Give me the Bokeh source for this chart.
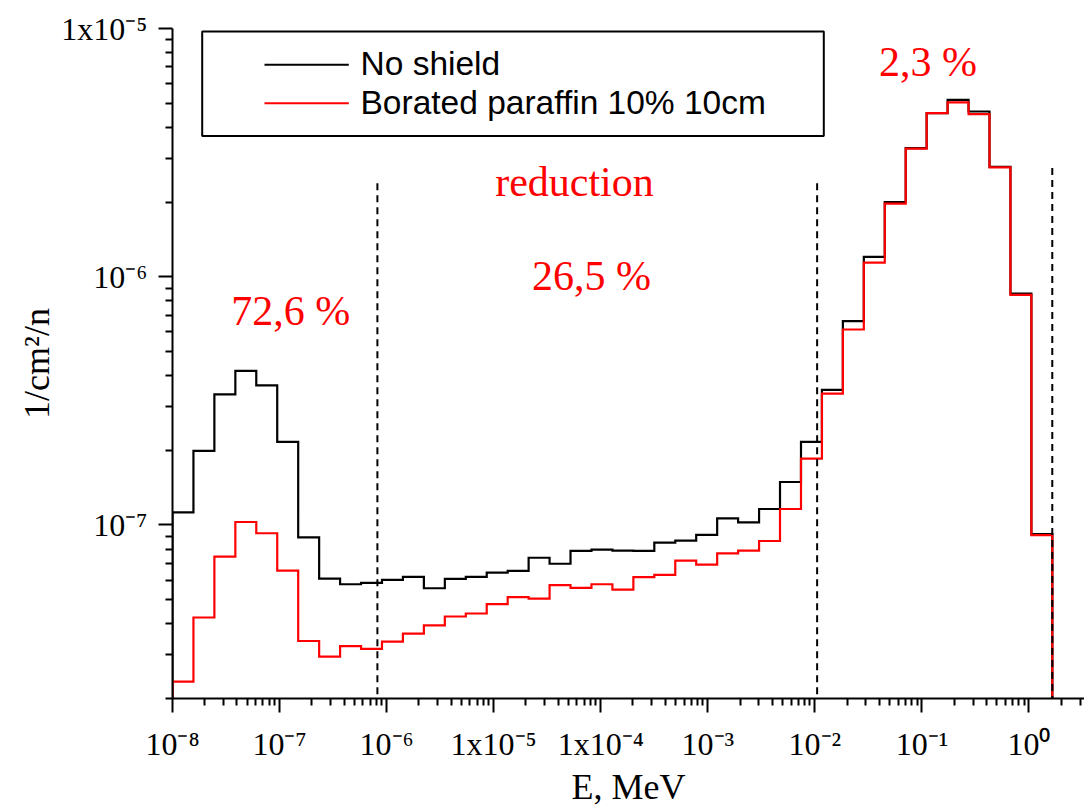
import math
from bokeh.plotting import figure
from bokeh.models import (Range1d, FixedTicker, Label, BoxAnnotation, CustomJSTickFormatter, Title)
from bokeh.embed import file_html
from bokeh.resources import INLINE

# ---------------- data ----------------
bin_edges_mev = [1.0e-8, 1.569e-8, 2.461e-8, 3.864e-8, 6.06e-8, 9.51e-8, 1.493e-7, 2.343e-7,
                 3.676e-7, 5.77e-7, 9.05e-7, 1.420e-6, 2.228e-6, 3.497e-6, 5.49e-6, 8.61e-6,
                 1.351e-5, 2.120e-5, 3.327e-5, 5.22e-5, 8.19e-5, 1.285e-4, 2.017e-4, 3.165e-4,
                 4.967e-4, 7.79e-4, 1.223e-3, 1.919e-3, 3.012e-3, 4.725e-3, 7.42e-3, 1.164e-2,
                 1.826e-2, 2.866e-2, 4.497e-2, 7.056e-2, 0.1107, 0.1737, 0.2726, 0.4278,
                 0.6712, 1.053, 1.652]

no_shield = [1.125e-7, 1.99e-7, 3.36e-7, 4.18e-7, 3.65e-7, 2.16e-7, 8.92e-8, 6.08e-8,
             5.77e-8, 5.84e-8, 6.01e-8, 6.18e-8, 5.56e-8, 6.07e-8, 6.18e-8, 6.43e-8,
             6.53e-8, 7.38e-8, 6.98e-8, 7.86e-8, 7.96e-8, 7.88e-8, 7.86e-8, 8.49e-8,
             8.65e-8, 9.12e-8, 1.064e-7, 1.025e-7, 1.16e-7, 1.49e-7, 2.16e-7, 3.50e-7,
             6.62e-7, 1.202e-6, 2.00e-6, 3.30e-6, 4.56e-6, 5.16e-6, 4.63e-6, 2.77e-6,
             8.55e-7, 9.18e-8]

borated = [2.34e-8, 4.24e-8, 7.46e-8, 1.028e-7, 9.26e-8, 6.55e-8, 3.41e-8, 2.95e-8,
           3.25e-8, 3.17e-8, 3.39e-8, 3.65e-8, 3.94e-8, 4.28e-8, 4.40e-8, 4.80e-8,
           5.12e-8, 5.05e-8, 5.72e-8, 5.58e-8, 5.77e-8, 5.49e-8, 6.16e-8, 6.29e-8,
           7.18e-8, 6.92e-8, 7.69e-8, 7.88e-8, 8.62e-8, 1.16e-7, 1.85e-7, 3.38e-7,
           6.13e-7, 1.14e-6, 1.97e-6, 3.28e-6, 4.56e-6, 5.04e-6, 4.52e-6, 2.76e-6,
           8.45e-7, 9.1e-8]

series_names = ["No shield", "Borated paraffin 10% 10cm"]

divider_energies = [8.2e-7, 1.05e-2, 1.65]
divider_tops = [2.38e-6, 2.38e-6, 2.74e-6]

annotation_texts = ["72,6 %", "reduction", "26,5 %", "2,3 %"]
annotation_x = [1.27e-7, 5.68e-5, 8.2e-5, 0.114]
annotation_y = [6.46e-7, 2.14e-6, 8.94e-7, 6.47e-6]

x_tick_values = [1e-8, 1e-7, 1e-6, 1e-5, 1e-4, 1e-3, 1e-2, 1e-1, 1e0]
x_tick_labels = ["10\u207b\u2078", "10\u207b\u2077", "10\u207b\u2076", "1x10\u207b\u2075",
                 "1x10\u207b\u2074", "10\u207b\u00b3", "10\u207b\u00b2", "10\u207b\u00b9",
                 "10\u2070"]

y_tick_values = [1e-7, 1e-6, 1e-5]
y_tick_labels = ["10\u207b\u2077", "10\u207b\u2076", "1x10\u207b\u2075"]

x_title = "E, MeV"
y_title = "1/cm\u00b2/n"

# ---------------- figure ----------------
X_MIN, X_MAX = 1e-8, 3.3
Y_MIN, Y_MAX = 2e-8, 1e-5
SERIF = "Liberation Serif"
SANS = "Liberation Sans"

p = figure(width=1084, height=807, x_axis_type="log", y_axis_type="log",
           x_range=Range1d(X_MIN, X_MAX), y_range=Range1d(Y_MIN, Y_MAX),
           output_backend="svg", toolbar_location=None,
           min_border_left=172, min_border_right=0, min_border_top=28, min_border_bottom=109)
p.outline_line_color = None
p.grid.visible = False
p.background_fill_color = "white"
p.border_fill_color = "white"

x_minor = [m * 10.0 ** k for k in range(-8, 1) for m in range(2, 10) if m * 10.0 ** k <= X_MAX]
y_minor = [m * 10.0 ** k for k in range(-8, -5) for m in range(2, 10) if m * 10.0 ** k >= Y_MIN]

LOOKUP = """
let best = -1, bd = 1e9;
for (let i = 0; i < vals.length; i++) {
  const d = Math.abs(Math.log10(tick) - Math.log10(vals[i]));
  if (d < bd) { bd = d; best = i; }
}
return bd < 1e-6 ? labs[best] : '';
"""

for ax, major, minor, labs in ((p.xaxis[0], x_tick_values, x_minor, x_tick_labels),
                               (p.yaxis[0], y_tick_values, y_minor, y_tick_labels)):
    ax.ticker = FixedTicker(ticks=major, minor_ticks=minor)
    ax.formatter = CustomJSTickFormatter(args=dict(vals=major, labs=labs), code=LOOKUP)
    ax.axis_line_width = 2
    ax.axis_line_color = "black"
    ax.major_tick_line_width = 2
    ax.minor_tick_line_width = 2
    ax.major_tick_out = 14
    ax.major_tick_in = 0
    ax.minor_tick_out = 7
    ax.minor_tick_in = 0
    ax.major_label_text_font = SERIF
    ax.major_label_text_font_size = "32px"
    ax.major_label_text_color = "black"

p.xaxis.major_label_standoff = 13
p.yaxis.major_label_standoff = 11

# axis titles as side titles (allow an offset along the axis)
p.add_layout(Title(text=x_title, align="center", offset=20, standoff=0,
                   text_font=SERIF, text_font_size="36px", text_font_style="normal",
                   text_color="black"), "below")
p.add_layout(Title(text=y_title, align="center", offset=43, standoff=3,
                   text_font=SERIF, text_font_size="36px", text_font_style="normal",
                   text_color="black"), "left")

# ---------------- histogram step outlines ----------------
def step_path(edges, vals, floor):
    xs, ys = [edges[0]], [floor]
    for i, v in enumerate(vals):
        xs += [edges[i], edges[i + 1]]
        ys += [v, v]
    xs.append(edges[-1])
    ys.append(floor)
    return xs, ys

bx, by = step_path(bin_edges_mev, no_shield, Y_MIN)
rx, ry = step_path(bin_edges_mev, borated, Y_MIN)
p.line(bx, by, line_color="black", line_width=2.2, line_join="miter")
p.line(rx, ry, line_color="#ff0000", line_width=2.2, line_join="miter")

# dashed region dividers (drawn from the top down so the pattern starts at the top)
p.segment(x0=divider_energies, y0=divider_tops,
          x1=divider_energies, y1=[Y_MIN] * len(divider_energies),
          line_color="black", line_width=2, line_dash="7 5")

# red annotations
for t, ax_, ay_ in zip(annotation_texts, annotation_x, annotation_y):
    p.add_layout(Label(x=ax_, y=ay_, y_offset=13, text=t, text_align="center",
                       text_baseline="alphabetic", text_font=SERIF, text_font_size="42px",
                       text_color="#ff0000"))

# ---------------- legend (drawn in frame screen units) ----------------
p.add_layout(BoxAnnotation(left=29.7, right=651.3, bottom=562.5, top=667,
                           left_units="screen", right_units="screen",
                           bottom_units="screen", top_units="screen",
                           fill_color="white", fill_alpha=1, line_color="black", line_width=2,
                           line_alpha=1))
for i, (name, col) in enumerate(zip(series_names, ["black", "#ff0000"])):
    yc = 633.7 - 38.4 * i
    p.add_layout(BoxAnnotation(left=92, right=176.3, bottom=yc - 1, top=yc + 1,
                               left_units="screen", right_units="screen",
                               bottom_units="screen", top_units="screen",
                               fill_color=col, fill_alpha=1, line_color=None))
    p.add_layout(Label(x=188, y=yc + 1, x_units="screen", y_units="screen", text=name,
                       text_align="left", text_baseline="alphabetic", text_font=SANS,
                       text_font_size="33.5px", text_color="black"))

open("out.html", "w").write(file_html(p, INLINE))
